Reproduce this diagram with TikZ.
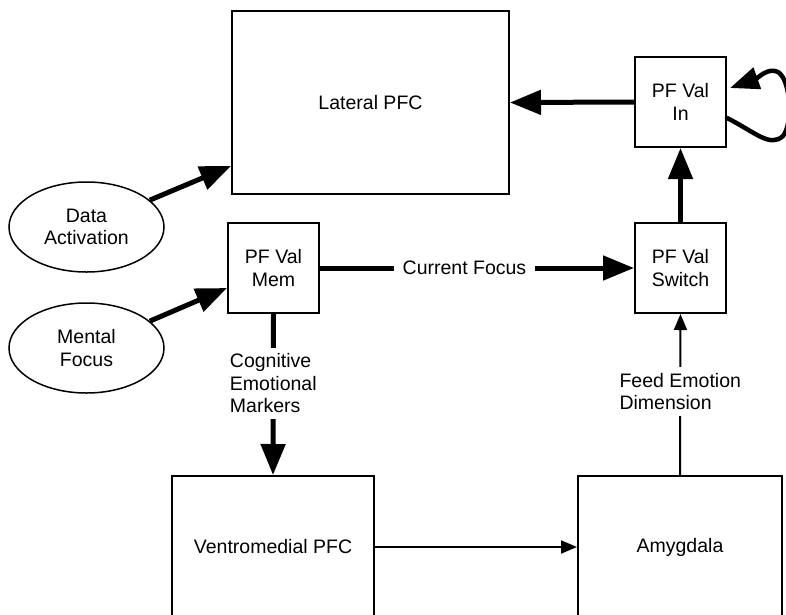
\documentclass[tikz,border=0pt]{standalone}
\usepackage{fontspec}
\setmainfont{Liberation Sans}
\usetikzlibrary{arrows.meta,shapes.geometric}
\begin{document}
\begin{tikzpicture}[x=1pt,y=-1pt,
  font=\fontsize{19.5}{22.5}\selectfont,
  box/.style={draw, line width=2pt, rectangle, inner sep=0pt, align=center},
  oval/.style={ellipse, draw, line width=1.5pt, minimum width=155pt, minimum height=90pt, inner sep=0pt, align=center},
  bigarrow/.style={line width=5pt, -{Triangle[length=31pt,width=24pt]}},
  smallarrow/.style={line width=2pt, -{Triangle[length=16pt,width=13pt]}},
  loopline/.style={line width=4.5pt, line cap=round, -{Triangle[length=29pt,width=22pt]}},
  lbl/.style={fill=white, inner xsep=9pt, inner ysep=6pt, align=left}]
\useasboundingbox (0,0) rectangle (786,614);
\clip (0,0) rectangle (786,614);

\node[box, minimum width=277pt, minimum height=183pt] (lat) at (370.5,102.5) {Lateral PFC};
\node[box, minimum width=91pt, minimum height=90pt] (in) at (680.5,102) {PF Val\\In};
\node[box, minimum width=91pt, minimum height=90pt] (sw) at (680.5,268) {PF Val\\Switch};
\node[box, minimum width=91pt, minimum height=90pt] (mem) at (273.5,268) {PF Val\\Mem};
\node[box, minimum width=202pt, minimum height=142pt] (vent) at (273,547) {Ventromedial PFC};
\node[box, minimum width=204pt, minimum height=142pt] (amy) at (680,547) {Amygdala};
\node[oval] (da) at (86.5,227) {Data\\Activation};
\node[oval] (mf) at (86.5,348) {Mental\\Focus};

\draw[bigarrow] (in.west) -- (lat.east);
\draw[bigarrow] (sw.north) -- (in.south);
\draw[bigarrow] (da.23) -- ([yshift=29pt]lat.south west);
\draw[bigarrow] (mf.23) -- ([yshift=-20pt]mem.west);
\draw[bigarrow] (mem.east) -- node[lbl, pos=0.46] {Current Focus} (sw.west);
\draw[bigarrow] (mem.south) -- node[lbl, pos=0.43] {Cognitive\\Emotional\\Markers} (vent.north);
\draw[smallarrow] (vent.east) -- (amy.west);
\draw[smallarrow] (amy.north) -- node[lbl, pos=0.52] {Feed Emotion\\Dimension} (sw.south);
\draw[loopline] ([yshift=-16pt]in.east) .. controls (755,132) and (770,148) .. (783,136)
  .. controls (793,124) and (791,80) .. (778,72)
  .. controls (768,67) and (758,78) .. ([xshift=3pt,yshift=14pt]in.east);
\end{tikzpicture}
\end{document}
